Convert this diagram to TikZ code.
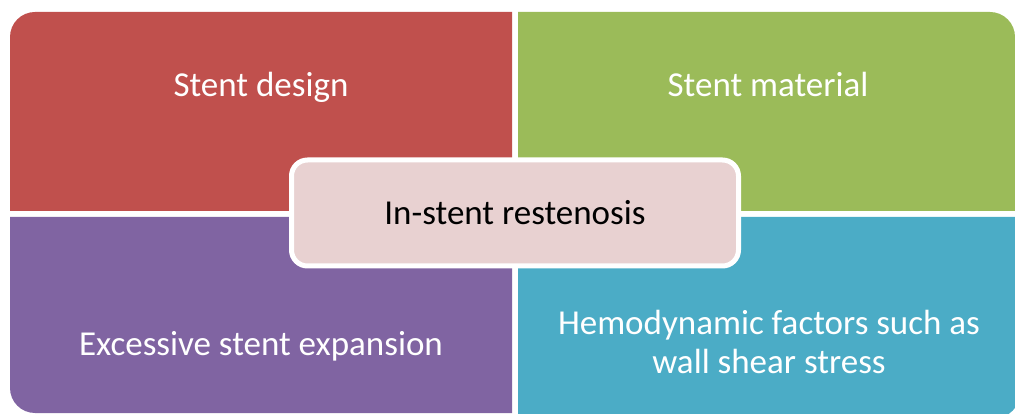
\documentclass[tikz,border=0pt]{standalone}
\usepackage{fontspec}
\setmainfont{Carlito}
\definecolor{qred}{HTML}{C0504D}
\definecolor{qgreen}{HTML}{9BBB59}
\definecolor{qpurple}{HTML}{8064A2}
\definecolor{qblue}{HTML}{4BACC6}
\definecolor{qcenter}{HTML}{E8D1D1}
\begin{document}
\begin{tikzpicture}[x=1pt,y=1pt,
  qtext/.style={text=white,font=\fontsize{35}{39}\selectfont,align=center,inner sep=0pt,anchor=base},
  ctext/.style={draw=white,line width=5pt,fill=qcenter,rounded corners=16pt,
    minimum width=447pt,minimum height=106pt,font=\fontsize{35}{39}\selectfont,text=black}]
\useasboundingbox (0,0) rectangle (1015,-414);
\clip (0,0) rectangle (1015,-414);
% quadrants
\fill[qred] (10,-211) -- (10,-37) arc[start angle=180,end angle=90,radius=25] -- (512,-12) -- (512,-211) -- cycle;
\fill[qgreen] (518,-211) -- (518,-12) -- (990,-12) arc[start angle=90,end angle=0,radius=25] -- (1015,-211) -- cycle;
\fill[qpurple] (10,-217) -- (10,-388) arc[start angle=180,end angle=270,radius=25] -- (512,-413) -- (512,-217) -- cycle;
\fill[qblue] (518,-217) -- (518,-418) -- (995,-418) arc[start angle=270,end angle=360,radius=25] -- (1020,-217) -- cycle;
% labels
\node[qtext] (design) at (261,-97) {Stent design};
\node[qtext] (material) at (768,-97) {Stent material};
\node[qtext] (expansion) at (261,-355) {Excessive stent expansion};
\node[qtext] (hemo) at (769,-373) {Hemodynamic factors such as\\wall shear stress};
% center
\node[ctext] (isr) at (515,-213) {In-stent restenosis};
\end{tikzpicture}
\end{document}
